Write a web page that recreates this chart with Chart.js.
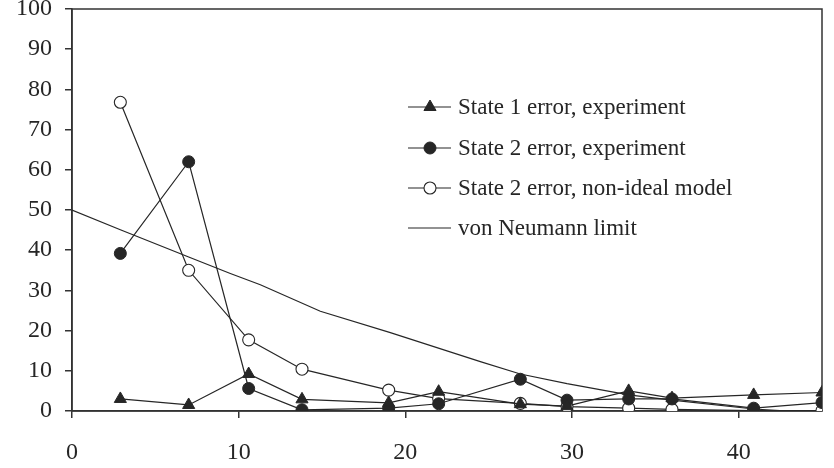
<!DOCTYPE html>
<html>
<head>
<meta charset="utf-8">
<script src="https://cdn.jsdelivr.net/npm/chart.js@4"></script>
<style>
  html, body { margin: 0; padding: 0; background: #fff; }
  #wrap { width: 834px; height: 468px; position: relative; }
</style>
</head>
<body>
<div id="wrap"><canvas id="c" width="834" height="468"></canvas></div>
<script>
// ---- data ----
const xValues   = [2.9, 7.0, 10.6, 13.8, 19.0, 22.0, 26.9, 29.7, 33.4, 36.0, 40.9, 45.0];
const state1Exp = [3.0, 1.5, 9.2, 2.9, 2.0, 4.8, 1.7, 1.2, 5.0, 3.2, 4.0, 4.6];
const state2Exp = [39.2, 62.0, 5.6, 0.3, 0.7, 1.8, 7.9, 2.7, 3.0, 3.0, 0.7, 2.1];
const state2Model = [76.8, 35.0, 17.7, 10.4, 5.2, 3.1, 1.9, 1.1, 0.7, 0.4, 0.1, 0.1];
const vnX = [0, 2.9, 7.0, 9.5, 11.3, 14.9, 19.1, 24.5, 26.9, 29.7, 33.4, 36.0, 40.9, 43.0, 45.0];
const vnY = [50, 45.1, 38.3, 34.2, 31.4, 24.8, 19.5, 12.3, 9.2, 6.8, 4.0, 2.7, 0.5, 0.0, 0.0];
const xTicks = [0, 10, 20, 30, 40];
const yTicks = [0, 10, 20, 30, 40, 50, 60, 70, 80, 90, 100];
const seriesLabels = ['State 1 error, experiment', 'State 2 error, experiment',
                      'State 2 error, non-ideal model', 'von Neumann limit'];

const ink = '#262626';
const FONT = 'Liberation Serif';
const pts = (xs, ys) => xs.map((x, i) => ({ x: x, y: ys[i] }));

const framePlugin = {
  id: 'frame',
  beforeDatasetsDraw(chart) {
    const a = chart.chartArea, ctx = chart.ctx;
    ctx.save();
    ctx.strokeStyle = '#333';
    ctx.lineWidth = 1.5;
    ctx.strokeRect(a.left, a.top, a.right - a.left, a.bottom - a.top);
    ctx.restore();
  }
};

const legendPlugin = {
  id: 'customLegend',
  afterDraw(chart) {
    const ctx = chart.ctx;
    const rows = [107, 148, 188, 228];
    const lineX0 = 408, lineX1 = 451, markX = 430, textX = 458;
    ctx.save();
    ctx.font = '23px "' + FONT + '"';
    ctx.textBaseline = 'middle';
    const order = [0, 1, 2, 3];
    order.forEach((dsIdx, r) => {
      const ds = chart.data.datasets[dsIdx];
      const y = rows[r];
      ctx.strokeStyle = ink;
      ctx.lineWidth = 1.2;
      ctx.beginPath();
      ctx.moveTo(lineX0, y); ctx.lineTo(lineX1, y);
      ctx.stroke();
      if (ds.pointStyle && ds.pointRadius > 0) {
        ctx.fillStyle = ds.pointBackgroundColor;
        ctx.strokeStyle = ds.pointBorderColor;
        ctx.lineWidth = ds.pointBorderWidth;
        Chart.helpers.drawPoint(ctx, {
          pointStyle: ds.pointStyle, rotation: 0,
          radius: ds.pointRadius, borderWidth: ds.pointBorderWidth
        }, markX, y);
      }
      ctx.fillStyle = ink;
      ctx.fillText(ds.label, textX, y + 1);
    });
    ctx.restore();
  }
};

new Chart(document.getElementById('c'), {
  type: 'scatter',
  data: {
    datasets: [
      {
        label: seriesLabels[0],
        data: pts(xValues, state1Exp),
        showLine: true, tension: 0,
        borderColor: ink, borderWidth: 1.2,
        pointStyle: 'triangle', pointRadius: 7,
        pointBackgroundColor: ink, pointBorderColor: ink, pointBorderWidth: 1,
        order: 1
      },
      {
        label: seriesLabels[1],
        data: pts(xValues, state2Exp),
        showLine: true, tension: 0,
        borderColor: ink, borderWidth: 1.2,
        pointStyle: 'circle', pointRadius: 6,
        pointBackgroundColor: ink, pointBorderColor: ink, pointBorderWidth: 1,
        order: 2
      },
      {
        label: seriesLabels[2],
        data: pts(xValues, state2Model),
        showLine: true, tension: 0,
        borderColor: ink, borderWidth: 1.2,
        pointStyle: 'circle', pointRadius: 6,
        pointBackgroundColor: '#ffffff', pointBorderColor: ink, pointBorderWidth: 1.1,
        order: 3
      },
      {
        label: seriesLabels[3],
        data: pts(vnX, vnY),
        showLine: true, tension: 0,
        borderColor: ink, borderWidth: 1.2,
        pointRadius: 0, pointStyle: false,
        order: 4
      }
    ]
  },
  options: {
    responsive: false,
    animation: false,
    events: [],
    layout: { padding: { top: 9, right: 12, left: 0, bottom: 0 } },
    plugins: { legend: { display: false }, tooltip: { enabled: false } },
    scales: {
      x: {
        type: 'linear', min: 0, max: 45,
        afterFit(s) { s.height = 57; s.paddingLeft = 0; s.paddingRight = 0; },
        afterBuildTicks(s) { s.ticks = xTicks.map(v => ({ value: v })); },
        ticks: { font: { family: FONT, size: 24 }, color: ink, padding: 20, maxRotation: 0 },
        grid: { drawOnChartArea: false, drawTicks: true, tickLength: 7, color: '#333', lineWidth: 1.5 },
        border: { color: '#333', width: 1.5 }
      },
      y: {
        type: 'linear', min: 0, max: 100,
        afterFit(s) { s.width = 72; s.paddingTop = 0; s.paddingBottom = 0; },
        afterBuildTicks(s) { s.ticks = yTicks.map(v => ({ value: v })); },
        ticks: { font: { family: FONT, size: 24 }, color: ink, padding: 13 },
        grid: { drawOnChartArea: false, drawTicks: true, tickLength: 7, color: '#333', lineWidth: 1.5 },
        border: { color: '#333', width: 1.5 }
      }
    }
  },
  plugins: [framePlugin, legendPlugin]
});
</script>
</body>
</html>
